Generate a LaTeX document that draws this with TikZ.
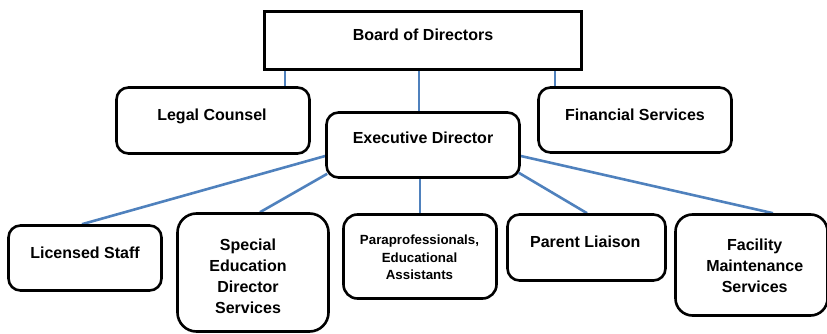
\documentclass[tikz,border=0pt]{standalone}
\usepackage{fontspec}
\setmainfont{Liberation Sans}
\usetikzlibrary{backgrounds}
\definecolor{linkblue}{HTML}{4F81BD}
\tikzset{
  orgbox/.style={draw=black, line width=2.6pt, fill=white, inner sep=0pt},
  roundbox/.style={orgbox, rounded corners=#1},
  lbl/.style={font=\bfseries\fontsize{16}{21}\selectfont, align=center, inner sep=0pt},
  smalllbl/.style={font=\bfseries\fontsize{13.3}{17.5}\selectfont, align=center, inner sep=0pt},
  conn/.style={draw=linkblue, line width=2.6pt}
}
\begin{document}
\begin{tikzpicture}[x=1pt, y=-1pt]
\useasboundingbox (0,0) rectangle (827,334);

% top level
\node[orgbox, minimum width=317pt, minimum height=58pt] (board) at (423,40.5) {};
\node[lbl, anchor=base] (boardtxt) at (423,40.7) {Board of Directors};

% second level
\node[roundbox=12pt, minimum width=193pt, minimum height=66pt] (legal) at (213,120.5) {};
\node[lbl, anchor=base] (legaltxt) at (212,120.7) {Legal Counsel};

\node[roundbox=12pt, minimum width=193pt, minimum height=65pt] (exec) at (423,145) {};
\node[lbl, anchor=base] (exectxt) at (423,143.7) {Executive Director};

\node[roundbox=12pt, minimum width=193pt, minimum height=65pt] (fin) at (635,120) {};
\node[lbl, anchor=base] (fintxt) at (635,120.7) {Financial Services};

% bottom level
\node[roundbox=12pt, minimum width=153pt, minimum height=65pt] (licensed) at (85,258) {};
\node[lbl, anchor=base] (licensedtxt) at (85,258.7) {Licensed Staff};

\node[roundbox=19pt, minimum width=151pt, minimum height=118pt] (special) at (253,272.5) {};
\node[lbl] (specialtxt) at (248,276.5) {Special\\Education\\Director\\Services};

\node[roundbox=14pt, minimum width=153pt, minimum height=84pt] (para) at (420,256.5) {};
\node[smalllbl] (paratxt) at (419.5,257.5) {Paraprofessionals,\\Educational\\Assistants};

\node[roundbox=12pt, minimum width=158pt, minimum height=66pt] (parent) at (586.5,247.5) {};
\node[lbl, anchor=base] (parenttxt) at (585.3,247.7) {Parent Liaison};

\node[roundbox=17pt, minimum width=152pt, minimum height=101pt] (facility) at (751.5,265) {};
\node[lbl] (facilitytxt) at (754.7,265.5) {Facility\\Maintenance\\Services};

% connectors, kept behind the boxes
\begin{scope}[on background layer]
  \draw[conn] ([xshift=-138pt]board.south) -- ([xshift=72pt]legal.north);
  \draw[conn] ([xshift=-4pt]board.south) -- ([xshift=-4pt]exec.north);
  \draw[conn] ([xshift=132pt]board.south) -- ([xshift=-80pt]fin.north);

  \draw[conn] ([yshift=-11pt]exec.west) -- ([xshift=-3pt]licensed.north);
  \draw[conn] ([xshift=2pt,yshift=5pt]exec.south west) -- ([xshift=7pt]special.north);
  \draw[conn] ([xshift=-3pt]exec.south) -- (para.north);
  \draw[conn] ([xshift=-2pt,yshift=6pt]exec.south east) -- ([xshift=0.5pt]parent.north);
  \draw[conn] ([yshift=-11pt]exec.east) -- ([xshift=21.5pt]facility.north);
\end{scope}
\end{tikzpicture}
\end{document}
